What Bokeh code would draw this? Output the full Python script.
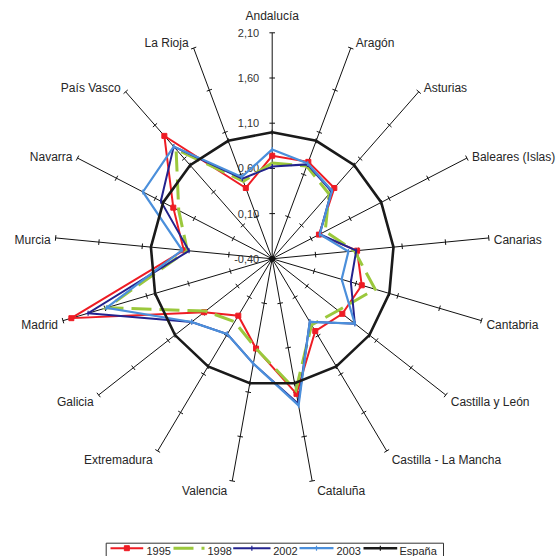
import math
from bokeh.plotting import figure
from bokeh.models import Range1d
from bokeh.core.properties import value
from bokeh.embed import file_html
from bokeh.resources import INLINE

# ---------------- data ----------------
categories = ["Andalucía", "Aragón", "Asturias", "Baleares (Islas)", "Canarias",
              "Cantabria", "Castilla y León", "Castilla - La Mancha", "Cataluña",
              "Valencia", "Extremadura", "Galicia", "Madrid", "Murcia", "Navarra",
              "País Vasco", "La Rioja"]
series_names = ["1995", "1998", "2002", "2003", "España"]
v1995 = [0.74, 0.75, 0.66, 0.20, 0.58, 0.67, 0.61, 0.54, 1.12, 0.61, 0.34, 0.58, 2.00, 0.62, 0.87, 1.44, 0.44]
v1998 = [0.66, 0.70, 0.57, 0.28, 0.55, 0.83, 0.55, 0.46, 1.08, 0.61, 0.42, 0.56, 1.58, 0.58, 0.80, 1.24, 0.52]
v2002 = [0.62, 0.72, 0.61, 0.21, 0.57, 0.54, 0.79, 0.42, 1.23, 0.78, 0.58, 0.76, 1.80, 0.56, 1.03, 1.28, 0.55]
v2003 = [0.81, 0.73, 0.62, 0.21, 0.48, 0.43, 0.79, 0.42, 1.25, 0.78, 0.58, 0.76, 1.58, 0.64, 1.26, 1.28, 0.57]
vespana = [1.0] * 17
tick_values = [-0.40, 0.10, 0.60, 1.10, 1.60, 2.10]
tick_labels = ["-0,40", "0,10", "0,60", "1,10", "1,60", "2,10"]

# ---------------- layout ----------------
W, H = 559, 556
CX, CY = 271.7, 258.3      # centre in px
SX, SY = 87.0, 90.4        # px per radial unit (x, y)
R0, R1 = tick_values[0], tick_values[-1]
FONT = value("Liberation Sans")

p = figure(width=W, height=H, output_backend="svg", toolbar_location=None,
           x_range=Range1d(-CX / SX, (W - CX) / SX),
           y_range=Range1d(-(H - CY) / SY, CY / SY),
           min_border=0, x_axis_location=None, y_axis_location=None)
p.grid.visible = False
p.outline_line_color = None


def fx(page_x):
    return (page_x - CX) / SX


def fy(page_y):
    return (CY - page_y) / SY


n = len(categories)
thetas = [2 * math.pi * k / n for k in range(n)]
sins = [math.sin(t) for t in thetas]
coss = [math.cos(t) for t in thetas]
RMAX = R1 - R0

# spokes
p.segment(x0=[0] * n, y0=[0] * n, x1=[RMAX * s for s in sins], y1=[RMAX * c for c in coss],
          line_color="#111111", line_width=1)

# tick marks on each spoke
tx0, ty0, tx1, ty1 = [], [], [], []
for s, c in zip(sins, coss):
    dxp, dyp = s * SX, c * SY
    L = math.hypot(dxp, dyp)
    px_, py_ = dyp / L, -dxp / L   # perpendicular in px space
    for t in tick_values:
        r = t - R0
        cx_, cy_ = r * s, r * c
        tx0.append(cx_ - 2.8 * px_ / SX)
        ty0.append(cy_ - 2.8 * py_ / SY)
        tx1.append(cx_ + 2.8 * px_ / SX)
        ty1.append(cy_ + 2.8 * py_ / SY)
p.segment(x0=tx0, y0=ty0, x1=tx1, y1=ty1, line_color="#111111", line_width=1)

# tick labels along the first spoke
p.text(x=[-13 / SX] * len(tick_values), y=[t - R0 for t in tick_values], text=tick_labels,
       text_align="right", text_baseline="middle", text_font=FONT,
       text_font_size="11px", text_color="#333333")

# category labels
groups = {"left": ([], [], []), "right": ([], [], []), "center": ([], [], [])}
for name, s, c in zip(categories, sins, coss):
    ex, ey = RMAX * s, RMAX * c
    if abs(s) < 0.05:
        groups["center"][0].append(ex)
        groups["center"][1].append(ey + 17 / SY)
        groups["center"][2].append(name)
    else:
        key = "left" if s > 0 else "right"
        xoff = 5 if s > 0 else -5
        yoff_down = 2.5 + 8 * (-c)
        groups[key][0].append(ex + xoff / SX)
        groups[key][1].append(ey - yoff_down / SY)
        groups[key][2].append(name)
for align, (xs, ys, ts) in groups.items():
    p.text(x=xs, y=ys, text=ts, text_align=align, text_baseline="middle",
           text_font=FONT, text_font_size="12px", text_color="#262626")

# series
styles = {
    "1995": dict(color="#ee1c24", width=2.0, dash="solid", marker="square"),
    "1998": dict(color="#9bc83c", width=3.0, dash="20 8", marker=None),
    "2002": dict(color="#23238e", width=2.0, dash="solid", marker="dash"),
    "2003": dict(color="#4b8fdb", width=2.2, dash="solid", marker="dash"),
    "España": dict(color="#1a1a1a", width=2.6, dash="solid", marker="dash"),
}
all_series = [v1995, v1998, v2002, v2003, vespana]
for name, vals in zip(series_names, all_series):
    st = styles[name]
    xs = [(v - R0) * s for v, s in zip(vals, sins)]
    ys = [(v - R0) * c for v, c in zip(vals, coss)]
    p.line(xs + xs[:1], ys + ys[:1], line_color=st["color"], line_width=st["width"],
           line_dash=st["dash"], line_join="miter")
    if st["marker"] == "square":
        p.scatter(xs, ys, marker="square", size=5, fill_color=st["color"], line_color=st["color"])
    elif st["marker"] == "dash":
        p.scatter(xs, ys, marker="dash", size=5, angle=math.pi / 2, line_color=st["color"],
                  line_width=1.2)

# legend (drawn manually)
leg_line_x = [(110, 142.7), (173, 204), (232.7, 270), (299, 333), (363, 396.7)]
leg_text_x = [146, 207, 272.7, 336, 399]
leg_line_y, leg_text_y, box_top = 547.7, 550.5, 542.7
p.line([fx(105.7), fx(105.7), fx(443), fx(443)], [fy(570), fy(box_top), fy(box_top), fy(570)],
       line_color="#333333", line_width=1)
for name, (a, b), tx in zip(series_names, leg_line_x, leg_text_x):
    st = styles[name]
    p.line([fx(a), fx(b)], [fy(leg_line_y), fy(leg_line_y)], line_color=st["color"],
           line_width=st["width"], line_dash=st["dash"])
    mx, my = fx((a + b) / 2), fy(leg_line_y)
    if st["marker"] == "square":
        p.scatter([mx], [my], marker="square", size=5, fill_color=st["color"], line_color=st["color"])
    elif st["marker"] == "dash":
        p.scatter([mx], [my], marker="dash", size=5, angle=math.pi / 2, line_color=st["color"],
                  line_width=1.2)
    p.text(x=[fx(tx)], y=[fy(leg_text_y)], text=[name], text_align="left", text_baseline="middle",
           text_font=FONT, text_font_size="11px", text_color="#262626")

open("out.html", "w").write(file_html(p, INLINE))
